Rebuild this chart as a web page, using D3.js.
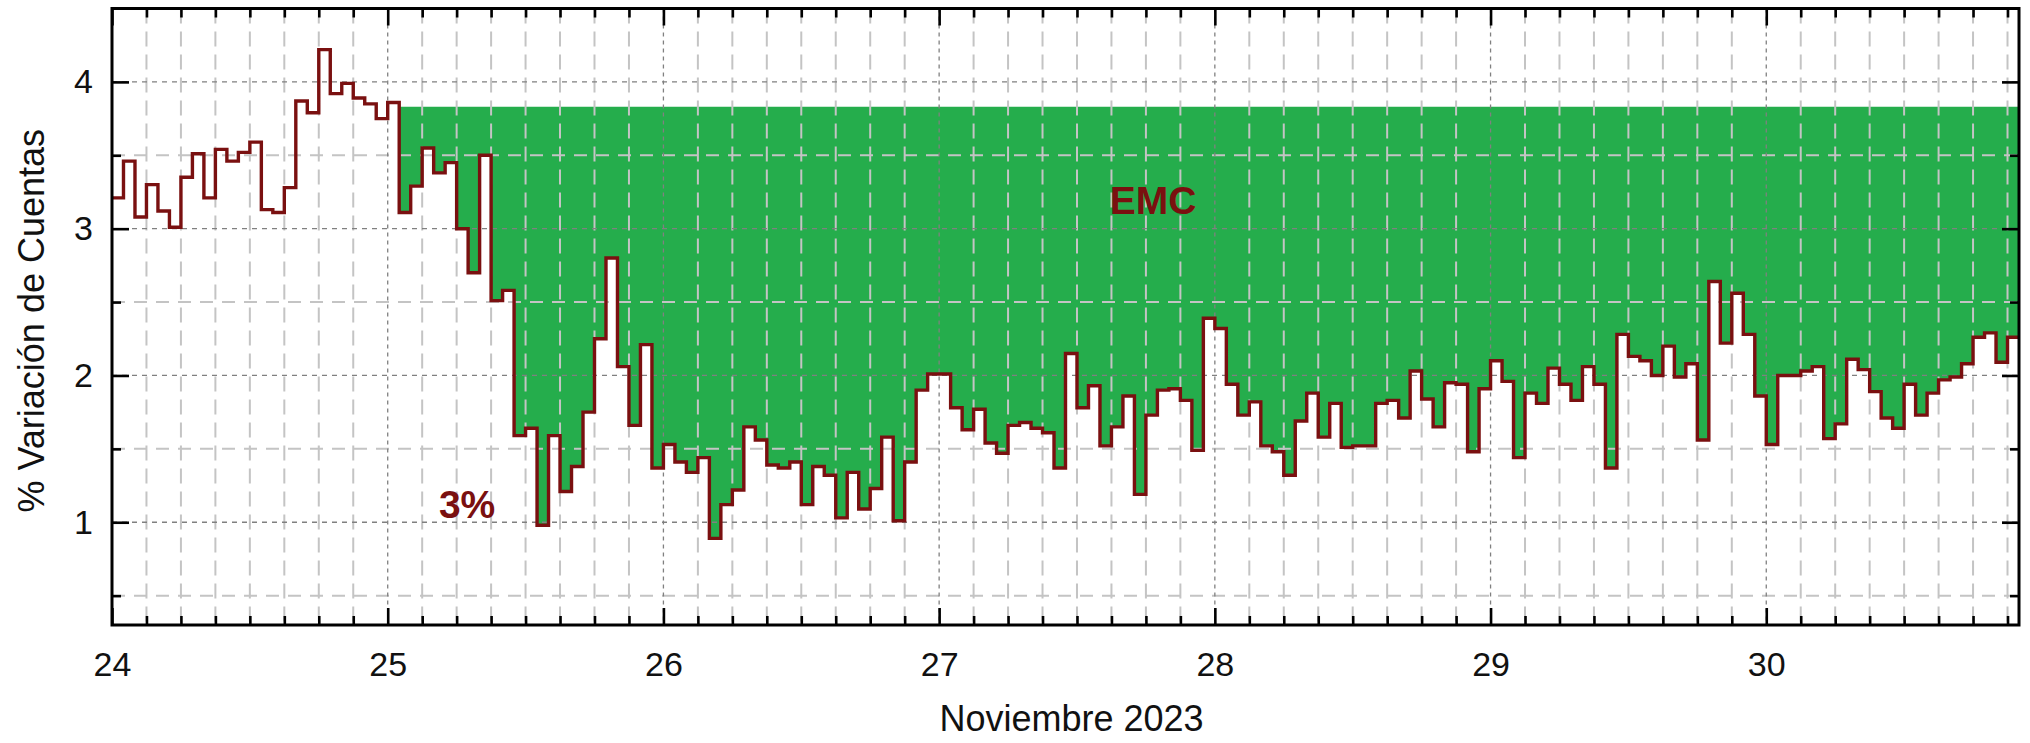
<!DOCTYPE html>
<html>
<head>
<meta charset="utf-8">
<script src="https://cdn.jsdelivr.net/npm/d3@7"></script>
<style>
  html, body { margin: 0; padding: 0; background: #fff; }
  svg { display: block; font-family: "Liberation Sans", Arial, Helvetica, sans-serif; }
</style>
</head>
<body>
<svg id="chart" width="2030" height="743"></svg>
<script>
// Hourly count variation (%) starting 24 Nov 2023 00:00, one value per hour
const startDay = 24;
const hoursPerDay = 24;
const hourlyValues = [
  3.21, 3.46, 3.08, 3.30, 3.12, 3.01, 3.35, 3.51, 3.21, 3.54, 3.46, 3.52,
  3.59, 3.13, 3.11, 3.28, 3.87, 3.79, 4.22, 3.92, 3.99, 3.89, 3.85, 3.75,
  3.86, 3.11, 3.29, 3.55, 3.38, 3.45, 3.00, 2.70, 3.50, 2.51, 2.58, 1.59,
  1.64, 0.98, 1.59, 1.21, 1.38, 1.75, 2.25, 2.80, 2.06, 1.66, 2.21, 1.37,
  1.53, 1.41, 1.34, 1.44, 0.89, 1.12, 1.22, 1.65, 1.56, 1.39, 1.37, 1.41,
  1.12, 1.38, 1.32, 1.03, 1.34, 1.09, 1.23, 1.58, 1.01, 1.41, 1.90, 2.01,
  2.01, 1.78, 1.63, 1.77, 1.54, 1.47, 1.66, 1.68, 1.64, 1.61, 1.37, 2.15,
  1.78, 1.93, 1.52, 1.65, 1.86, 1.19, 1.73, 1.90, 1.91, 1.83, 1.49, 2.39,
  2.32, 1.94, 1.73, 1.82, 1.52, 1.48, 1.32, 1.69, 1.88, 1.58, 1.81, 1.51,
  1.52, 1.52, 1.81, 1.83, 1.71, 2.03, 1.84, 1.65, 1.95, 1.94, 1.48, 1.91,
  2.10, 1.96, 1.44, 1.88, 1.81, 2.05, 1.94, 1.83, 2.06, 1.94, 1.37, 2.28,
  2.13, 2.10, 2.00, 2.20, 1.99, 2.08, 1.56, 2.64, 2.22, 2.56, 2.28, 1.86,
  1.53, 2.00, 2.00, 2.03, 2.06, 1.57, 1.67, 2.11, 2.04, 1.89, 1.71, 1.64,
  1.94, 1.73, 1.88, 1.97, 1.99, 2.08, 2.26, 2.29, 2.09, 2.26
];

// Shaded decrease (EMC) from 25 Nov 01:00 up to the reference level
const emcStartHour = 25;
const emcLevel = 3.83;

const dayTicks = [24, 25, 26, 27, 28, 29, 30];
const yMajorTicks = [1, 2, 3, 4];
const yMinorTicks = [0.5, 1.5, 2.5, 3.5];
const xTitle = "Noviembre 2023";
const yTitle = "% Variación de Cuentas";

// ---- layout ----
const plot = { left: 112, right: 2019, top: 8.5, bottom: 625 };
const darkRed = "#7a1010";

const svg = d3.select("#chart");

const endDay = startDay + hourlyValues.length / hoursPerDay;
const x = d3.scaleLinear().domain([startDay, endDay]).range([plot.left, plot.right]);
const y = d3.scaleLinear().domain([0.3, 4.5]).range([plot.bottom, plot.top]);

// step points, closing the last hour at the right edge
const pts = hourlyValues.map((v, i) => ({ t: startDay + i / hoursPerDay, v }));
pts.push({ t: endDay, v: hourlyValues[hourlyValues.length - 1] });

const minorX = d3.range(0, Math.floor((endDay - startDay) * 8) + 1)
  .filter(k => k % 8 !== 0)
  .map(k => startDay + k / 8);

svg.append("defs").append("clipPath").attr("id", "plotClip")
  .append("rect")
  .attr("x", plot.left).attr("y", plot.top)
  .attr("width", plot.right - plot.left).attr("height", plot.bottom - plot.top);

const inner = svg.append("g").attr("clip-path", "url(#plotClip)");

// EMC shaded area
const area = d3.area()
  .x(d => x(d.t))
  .y0(y(emcLevel))
  .y1(d => y(d.v))
  .curve(d3.curveStepAfter);

inner.append("path")
  .datum(pts.filter((d, i) => i >= emcStartHour))
  .attr("d", area)
  .attr("fill", "#25ad4c");

// grid: minor (long dashes, light) and major (short dashes, dark)
const grid = inner.append("g");
grid.selectAll(".gxm").data(minorX).join("line")
  .attr("x1", d => x(d)).attr("x2", d => x(d))
  .attr("y1", plot.top).attr("y2", plot.bottom)
  .attr("stroke", "#c4c4c4").attr("stroke-width", 2)
  .attr("stroke-dasharray", "15,8");
grid.selectAll(".gym").data(yMinorTicks).join("line")
  .attr("x1", plot.left).attr("x2", plot.right)
  .attr("y1", d => y(d)).attr("y2", d => y(d))
  .attr("stroke", "#c4c4c4").attr("stroke-width", 2)
  .attr("stroke-dasharray", "13,9");
grid.selectAll(".gxM").data(dayTicks).join("line")
  .attr("x1", d => x(d)).attr("x2", d => x(d))
  .attr("y1", plot.top).attr("y2", plot.bottom)
  .attr("stroke", "#808080").attr("stroke-width", 1.3)
  .attr("stroke-dasharray", "4,4");
grid.selectAll(".gyM").data(yMajorTicks).join("line")
  .attr("x1", plot.left).attr("x2", plot.right)
  .attr("y1", d => y(d)).attr("y2", d => y(d))
  .attr("stroke", "#808080").attr("stroke-width", 1.3)
  .attr("stroke-dasharray", "5,5");

// hourly step line
const line = d3.line()
  .x(d => x(d.t))
  .y(d => y(d.v))
  .curve(d3.curveStepAfter);

inner.append("path")
  .datum(pts)
  .attr("d", line)
  .attr("fill", "none")
  .attr("stroke", darkRed)
  .attr("stroke-width", 3.4)
  .attr("stroke-linejoin", "miter");

// axes with inward ticks on all four sides
function styleAxis(g) {
  g.select(".domain").remove();
  g.selectAll(".tick line").attr("stroke", "#000").attr("stroke-width", 2.6);
  g.selectAll(".tick text")
    .attr("fill", "#111")
    .style("font-size", "34px")
    .style("font-family", "\"Liberation Sans\", Arial, sans-serif");
}

svg.append("g").attr("transform", `translate(0,${plot.bottom})`)
  .call(d3.axisBottom(x).tickValues(dayTicks).tickSize(-17).tickPadding(27).tickFormat(d3.format("d")))
  .call(styleAxis);
svg.append("g").attr("transform", `translate(0,${plot.bottom})`)
  .call(d3.axisBottom(x).tickValues(minorX).tickSize(-9).tickFormat(""))
  .call(styleAxis);
svg.append("g").attr("transform", `translate(0,${plot.top})`)
  .call(d3.axisTop(x).tickValues(dayTicks).tickSize(-17).tickFormat(""))
  .call(styleAxis);
svg.append("g").attr("transform", `translate(0,${plot.top})`)
  .call(d3.axisTop(x).tickValues(minorX).tickSize(-9).tickFormat(""))
  .call(styleAxis);

svg.append("g").attr("transform", `translate(${plot.left},0)`)
  .call(d3.axisLeft(y).tickValues(yMajorTicks).tickSize(-17).tickPadding(19).tickFormat(d3.format("d")))
  .call(styleAxis);
svg.append("g").attr("transform", `translate(${plot.left},0)`)
  .call(d3.axisLeft(y).tickValues(yMinorTicks).tickSize(-9).tickFormat(""))
  .call(styleAxis);
svg.append("g").attr("transform", `translate(${plot.right},0)`)
  .call(d3.axisRight(y).tickValues(yMajorTicks).tickSize(-17).tickFormat(""))
  .call(styleAxis);
svg.append("g").attr("transform", `translate(${plot.right},0)`)
  .call(d3.axisRight(y).tickValues(yMinorTicks).tickSize(-9).tickFormat(""))
  .call(styleAxis);

// frame
svg.append("rect")
  .attr("x", plot.left).attr("y", plot.top)
  .attr("width", plot.right - plot.left).attr("height", plot.bottom - plot.top)
  .attr("fill", "none").attr("stroke", "#000").attr("stroke-width", 3);

// annotations
svg.append("text")
  .attr("x", x(27.776)).attr("y", y(3.10))
  .attr("text-anchor", "middle")
  .attr("fill", darkRed)
  .style("font-size", "39px").style("font-weight", "bold")
  .text("EMC");
svg.append("text")
  .attr("x", x(25.288)).attr("y", y(1.03))
  .attr("text-anchor", "middle")
  .attr("fill", darkRed)
  .style("font-size", "39px").style("font-weight", "bold")
  .text("3%");

// axis titles
svg.append("text")
  .attr("x", (plot.left + plot.right) / 2 + 6).attr("y", 731)
  .attr("text-anchor", "middle")
  .attr("fill", "#111")
  .style("font-size", "36px")
  .text(xTitle);
svg.append("text")
  .attr("transform", `translate(44,${(plot.top + plot.bottom) / 2 + 4}) rotate(-90)`)
  .attr("text-anchor", "middle")
  .attr("fill", "#111")
  .style("font-size", "36px")
  .text(yTitle);
</script>
</body>
</html>
